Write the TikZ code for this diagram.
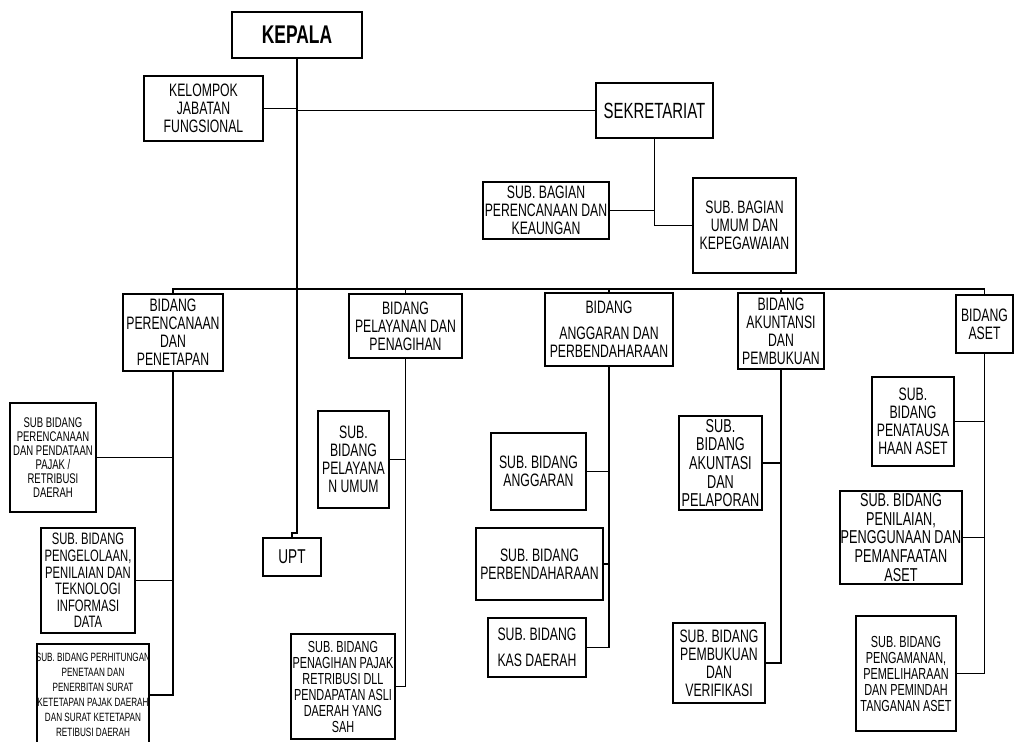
\documentclass[tikz,border=0pt]{standalone}
\usepackage{fontspec}
\setmainfont{Liberation Sans}[FakeStretch=0.68]
\usetikzlibrary{fit}
\tikzset{
  bx/.style={draw, line width=1.2pt, inner sep=0pt, fit={#1}},
  ln/.style={line width=1.4pt},
  tx/.style={align=center, inner sep=0pt, font=\fontsize{#1}{#1}\selectfont},
}
\begin{document}
\begin{tikzpicture}[x=0.75pt,y=-0.75pt]
\useasboundingbox (0,0) rectangle (1014,742);
\clip (0,0) rectangle (1014,742);
% boxes
\node[bx={(232,12) (362,58)}] (kepala) {};
\node[tx=19.2pt, font=\fontsize{19.2pt}{19.2pt}\selectfont\bfseries] at (kepala.center) {KEPALA};
\node[bx={(144,76) (263,141)}] (kelompok) {};
\node[tx=13.5pt] at (kelompok.center) {KELOMPOK\\JABATAN\\FUNGSIONAL};
\node[bx={(596,83) (713,138)}] (sekr) {};
\node[tx=16.5pt] at (sekr.center) {SEKRETARIAT};
\node[bx={(483,182) (609,239)}] (sbperenc) {};
\node[tx=13.5pt] at (sbperenc.center) {SUB. BAGIAN\\PERENCANAAN DAN\\KEAUNGAN};
\node[bx={(693,178) (796,273)}] (sbumum) {};
\node[tx=13.5pt] at (sbumum.center) {SUB. BAGIAN\\UMUM DAN\\KEPEGAWAIAN};
% bidang
\node[bx={(123,294) (223,371)}] (bperen) {};
\node[tx=13.5pt] at (bperen.center) {BIDANG\\PERENCANAAN\\DAN\\PENETAPAN};
\node[bx={(349,294) (462,358)}] (bpelay) {};
\node[tx=13.5pt] at (bpelay.center) {BIDANG\\PELAYANAN DAN\\PENAGIHAN};
\node[bx={(545,293) (673,366)}] (bangg) {};
\node[tx=13.5pt] at (bangg.center) {BIDANG\\[6pt]ANGGARAN DAN\\PERBENDAHARAAN};
\node[bx={(738,293) (824,369)}] (bakun) {};
\node[tx=13.5pt] at (bakun.center) {BIDANG\\AKUNTANSI\\DAN\\PEMBUKUAN};
\node[bx={(956,295) (1013,353)}] (baset) {};
\node[tx=13.5pt] at (baset.center) {BIDANG\\ASET};
% sub bidang
\node[bx={(10,403) (96,512)}] (s1) {};
\node[tx=10.5pt] at (s1.center) {SUB BIDANG\\PERENCANAAN\\DAN PENDATAAN\\PAJAK /\\RETRIBUSI\\DAERAH};
\node[bx={(41,528) (135,633)}] (s2) {};
\node[tx=12.4pt] at (s2.center) {SUB. BIDANG\\PENGELOLAAN,\\PENILAIAN DAN\\TEKNOLOGI\\INFORMASI\\DATA};
\node[bx={(37,644) (149,746)}] (s3) {};
\node[tx=11.2pt, font=\fontsize{9pt}{11.2pt}\selectfont] at (s3.center) {SUB. BIDANG PERHITUNGAN\\PENETAAN DAN\\PENERBITAN SURAT\\KETETAPAN PAJAK DAERAH\\DAN SURAT KETETAPAN\\RETIBUSI DAERAH};
\node[bx={(263,538) (321,576)}] (upt) {};
\node[tx=15pt] at (upt.center) {UPT};
\node[bx={(318,411) (389,508)}] (s4) {};
\node[tx=13.5pt] at (s4.center) {SUB.\\BIDANG\\PELAYANA\\N UMUM};
\node[bx={(291,634) (395,739)}] (s5) {};
\node[tx=12pt] at (s5.center) {SUB. BIDANG\\PENAGIHAN PAJAK\\RETRIBUSI DLL\\PENDAPATAN ASLI\\DAERAH YANG\\SAH};
\node[bx={(491,433) (586,510)}] (s6) {};
\node[tx=13.5pt] at (s6.center) {SUB. BIDANG\\ANGGARAN};
\node[bx={(476,528) (603,600)}] (s7) {};
\node[tx=13.5pt] at (s7.center) {SUB. BIDANG\\PERBENDAHARAAN};
\node[bx={(488,618) (586,677)}] (s8) {};
\node[tx=13.5pt] at (s8.center) {SUB. BIDANG\\[6pt]KAS DAERAH};
\node[bx={(679,416) (762,510)}] (s9) {};
\node[tx=14pt] at (s9.center) {SUB.\\BIDANG\\AKUNTASI\\DAN\\PELAPORAN};
\node[bx={(673,623) (765,703)}] (s10) {};
\node[tx=13.5pt] at (s10.center) {SUB. BIDANG\\PEMBUKUAN\\DAN\\VERIFIKASI};
\node[bx={(872,377) (954,466)}] (s11) {};
\node[tx=13.5pt] at (s11.center) {SUB.\\BIDANG\\PENATAUSA\\HAAN ASET};
\node[bx={(840,491) (962,584)}] (s12) {};
\node[tx=14pt] at (s12.center) {SUB. BIDANG\\PENILAIAN,\\PENGGUNAAN DAN\\PEMANFAATAN\\ASET};
\node[bx={(856,616) (956,731)}] (s13) {};
\node[tx=12pt] at (s13.center) {SUB. BIDANG\\PENGAMANAN,\\PEMELIHARAAN\\DAN PEMINDAH\\TANGANAN ASET};
% connectors
\coordinate (jog) at (297,533);
\draw[ln] (kepala.south) -- (jog) -- (jog -| upt.north) -- (upt.north);
\draw[ln] (kelompok.east) -- (kelompok.east -| kepala.south);
\draw[ln] (sekr.west -| kepala.south) -- (sekr.west);
\draw[ln] (sekr.south) -- (sekr.south |- sbumum.west) -- (sbumum.west);
\draw[ln] (sbperenc.east) -- (sbperenc.east -| sekr.south);
\coordinate (busL) at (173,289);
\draw[ln] (bperen.north) -- (busL) -- (busL -| baset.north) -- (baset.north);
\draw[ln] (bpelay.north) -- (bpelay.north |- busL);
\draw[ln] (bangg.north) -- (bangg.north |- busL);
\draw[ln] (bakun.north) -- (bakun.north |- busL);
\draw[ln] (bperen.south) -- (bperen.south |- s3.east) -- (s3.east);
\draw[ln] (s1.east) -- (s1.east -| bperen.south);
\draw[ln] (s2.east) -- (s2.east -| bperen.south);
\draw[ln] (bpelay.south) -- (bpelay.south |- s5.east) -- (s5.east);
\draw[ln] (s4.east) -- (s4.east -| bpelay.south);
\draw[ln] (bangg.south) -- (bangg.south |- s8.east) -- (s8.east);
\draw[ln] (s6.east) -- (s6.east -| bangg.south);
\draw[ln] (s7.east) -- (s7.east -| bangg.south);
\draw[ln] (bakun.south) -- (bakun.south |- s10.east) -- (s10.east);
\draw[ln] (s9.east) -- (s9.east -| bakun.south);
\draw[ln] (baset.south) -- (baset.south |- s13.east) -- (s13.east);
\draw[ln] (s11.east) -- (s11.east -| baset.south);
\draw[ln] (s12.east) -- (s12.east -| baset.south);
\end{tikzpicture}
\end{document}
